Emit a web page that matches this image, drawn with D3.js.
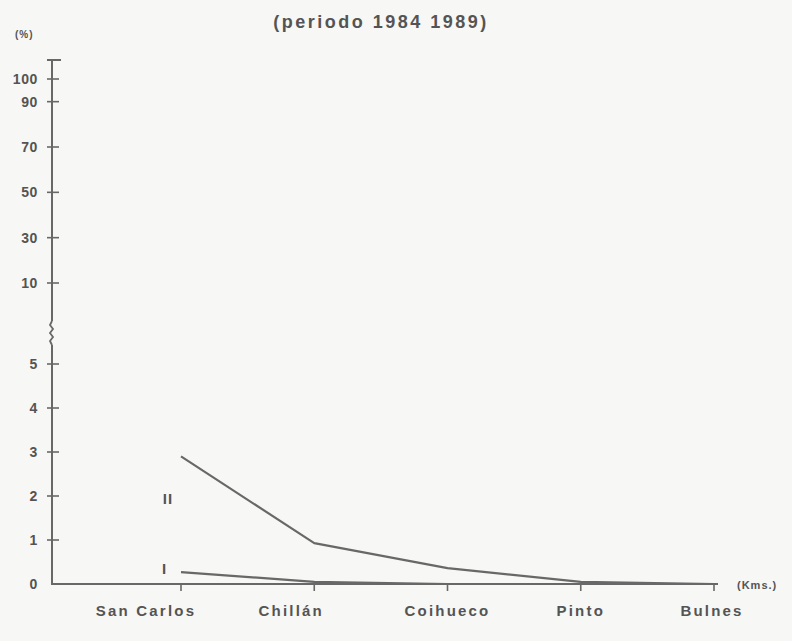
<!DOCTYPE html>
<html>
<head>
<meta charset="utf-8">
<script src="https://cdn.jsdelivr.net/npm/d3@7"></script>
<style>
  html, body { margin: 0; padding: 0; background: #f7f7f5; }
  svg { display: block; }
  text { font-family: "Liberation Sans", Arial, Helvetica, sans-serif; font-weight: bold; fill: #545454; }
</style>
</head>
<body>
<svg id="chart" width="792" height="641"></svg>
<script>
// ---- data ----
const title = "(periodo 1984 1989)";
const yUnit = "(%)";
const xUnit = "(Kms.)";
const categories = ["San Carlos", "Chillán", "Coihueco", "Pinto", "Bulnes"];
const seriesII = [2.9, 0.93, 0.36, 0.05, 0];
const seriesI = [0.27, 0.05, 0, 0, 0];
const seriesNames = ["II", "I"];
const yTicksLow = [0, 1, 2, 3, 4, 5];
const yTicksHigh = [10, 30, 50, 70, 90, 100];

// ---- layout ----
const svg = d3.select("#chart");
const ink = "#686868";
const axisX = 52, baseY = 584;

const x = d3.scalePoint().domain(categories).range([181, 714]);
// broken scale: 0–5 linear, break, 10–100 compressed
const y = d3.scaleLinear().domain([0, 5, 10, 100]).range([baseY, 364, 283, 79]);

// title
svg.append("text").attr("x", 381).attr("y", 28).attr("text-anchor", "middle")
  .style("font-size", "18px").style("letter-spacing", "2.5px").text(title);
svg.append("text").attr("x", 15).attr("y", 38)
  .style("font-size", "10px").style("letter-spacing", "1px").text(yUnit);

// y axis line (with break)
const g = svg.append("g");
g.append("line").attr("x1", axisX).attr("x2", axisX).attr("y1", 60).attr("y2", 321)
  .attr("stroke", ink).attr("stroke-width", 2);
g.append("path")
  .attr("d", `M${axisX},321 l-2,4 l3,4 l-3,4 l3,4 l-3,4 l2,4`)
  .attr("fill", "none").attr("stroke", ink).attr("stroke-width", 1.8);
g.append("line").attr("x1", axisX).attr("x2", axisX).attr("y1", 345).attr("y2", baseY)
  .attr("stroke", ink).attr("stroke-width", 2);
// top cap
g.append("line").attr("x1", axisX - 5).attr("x2", axisX + 9).attr("y1", 60).attr("y2", 60)
  .attr("stroke", ink).attr("stroke-width", 2);

const yTicks = yTicksLow.concat(yTicksHigh);
yTicks.forEach(t => {
  if (t !== 0) {
    g.append("line").attr("x1", axisX - 5).attr("x2", axisX + 7)
      .attr("y1", y(t)).attr("y2", y(t)).attr("stroke", ink).attr("stroke-width", 1.6);
  }
  g.append("text").attr("x", 38).attr("y", y(t)).attr("dy", "0.36em")
    .attr("text-anchor", "end").style("font-size", "14px").style("letter-spacing", "0.6px")
    .text(t);
});

// x axis
g.append("line").attr("x1", axisX - 1).attr("x2", 718).attr("y1", baseY).attr("y2", baseY)
  .attr("stroke", ink).attr("stroke-width", 2);
const labelShift = { "San Carlos": -35, "Chillán": -23, "Coihueco": 0, "Pinto": 0, "Bulnes": -2 };
categories.forEach(c => {
  g.append("line").attr("x1", x(c)).attr("x2", x(c)).attr("y1", baseY).attr("y2", baseY + 7)
    .attr("stroke", ink).attr("stroke-width", 1.6);
  g.append("text").attr("x", x(c) + labelShift[c]).attr("y", 616).attr("text-anchor", "middle")
    .style("font-size", "15px").style("letter-spacing", "2.2px").text(c);
});
svg.append("text").attr("x", 737).attr("y", 589)
  .style("font-size", "11px").style("letter-spacing", "1px").text(xUnit);

// series lines
const line = d3.line().x((d, i) => x(categories[i])).y(d => y(d));
[seriesII, seriesI].forEach(s => {
  svg.append("path").datum(s).attr("d", line)
    .attr("fill", "none").attr("stroke", ink).attr("stroke-width", 2.2)
    .attr("stroke-linejoin", "round");
});

// series labels
svg.append("text").attr("x", x(categories[0]) - 13).attr("y", y(1.95)).attr("dy", "0.36em")
  .attr("text-anchor", "middle").style("font-size", "15px").style("letter-spacing", "1px")
  .text(seriesNames[0]);
svg.append("text").attr("x", x(categories[0]) - 17).attr("y", y(0.36)).attr("dy", "0.36em")
  .attr("text-anchor", "middle").style("font-size", "15px").text(seriesNames[1]);
</script>
</body>
</html>
